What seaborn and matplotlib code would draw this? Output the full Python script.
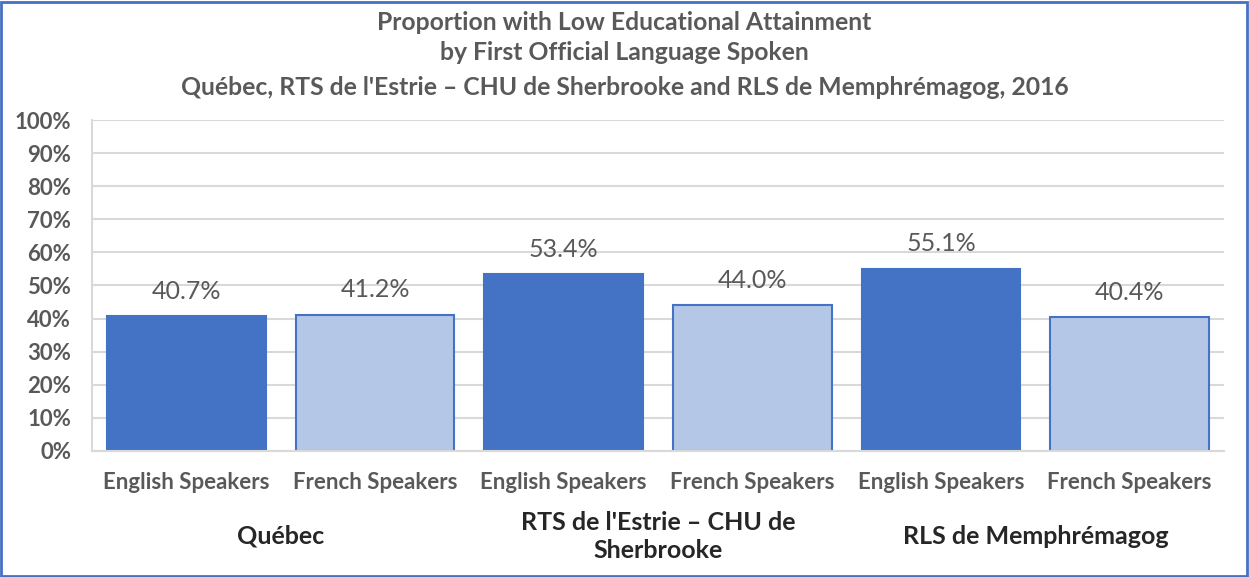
import pandas as pd
import seaborn as sns
import matplotlib.pyplot as plt
from matplotlib.patches import Rectangle

regions = ["Québec", "RTS de l'Estrie – CHU de\nSherbrooke", "RLS de Memphrémagog"]
languages = ["English Speakers", "French Speakers"]
values = [40.7, 41.2, 53.4, 44.0, 55.1, 40.4]
y_ticks = [0, 10, 20, 30, 40, 50, 60, 70, 80, 90, 100]

rows = []
i = 0
for r in regions:
    for lang in languages:
        rows.append({"key": f"{i}", "region": r, "language": lang, "value": values[i]})
        i += 1
df = pd.DataFrame(rows)

sns.set_style("white")
plt.rcParams["font.family"] = ["Lato", "DejaVu Sans"]
grey = "#595959"
dark = "#4472C4"
light = "#B4C7E7"

fig = plt.figure(figsize=(12.49, 5.77), dpi=100)
ax = fig.add_axes([0.0737, 0.2184, 0.9063, 0.5736])

sns.barplot(data=df, x="key", y="value", hue="language", dodge=False,
            palette={"English Speakers": dark, "French Speakers": light},
            saturation=1, width=0.84, ax=ax, legend=False)
for p in ax.patches:
    p.set_edgecolor(dark)
    p.set_linewidth(1.5)

for idx, v in enumerate(df["value"]):
    ax.text(idx, v + 7.6, f"{v:.1f}%", ha="center", va="center",
            fontsize=18, color=grey)

ax.set_ylim(0, 100)
ax.set_xlim(-0.5, len(df) - 0.5)
ax.set_yticks(y_ticks)
ax.set_yticklabels([f"{t}%" for t in y_ticks], fontsize=16, fontweight="bold", color=grey)
ax.set_xticks(range(len(df)))
ax.set_xticklabels(df["language"], fontsize=16, fontweight="bold", color=grey)
ax.tick_params(axis="x", length=0, pad=15)
ax.tick_params(axis="y", length=0, pad=15)
ax.set_xlabel("")
ax.set_ylabel("")
ax.yaxis.grid(True, color="#D9D9D9", linewidth=1.5)
ax.set_axisbelow(True)
for s in ["top", "right"]:
    ax.spines[s].set_visible(False)
for s in ["left", "bottom"]:
    ax.spines[s].set_color("#D9D9D9")
    ax.spines[s].set_linewidth(1.5)

for j, r in enumerate(regions):
    ax.text(2 * j + 0.5, -25.8, r, ha="center", va="center", fontsize=18,
            fontweight="bold", color="#262626", linespacing=1.25,
            transform=ax.transData, clip_on=False)

fig.text(0.5, 1 - 22 / 577, "Proportion with Low Educational Attainment", ha="center", va="center",
         fontsize=17.8, fontweight="bold", color=grey)
fig.text(0.5, 1 - 53 / 577, "by First Official Language Spoken", ha="center", va="center",
         fontsize=17.8, fontweight="bold", color=grey)
fig.text(0.5, 1 - 87 / 577, "Québec, RTS de l'Estrie – CHU de Sherbrooke and RLS de Memphrémagog, 2016",
         ha="center", va="center", fontsize=17.8, fontweight="bold", color=grey)

fig.patches.append(Rectangle((0.001, 0.002), 0.997, 0.995, transform=fig.transFigure,
                             fill=False, edgecolor=dark, linewidth=2))

fig.savefig("out.png", dpi=100)
